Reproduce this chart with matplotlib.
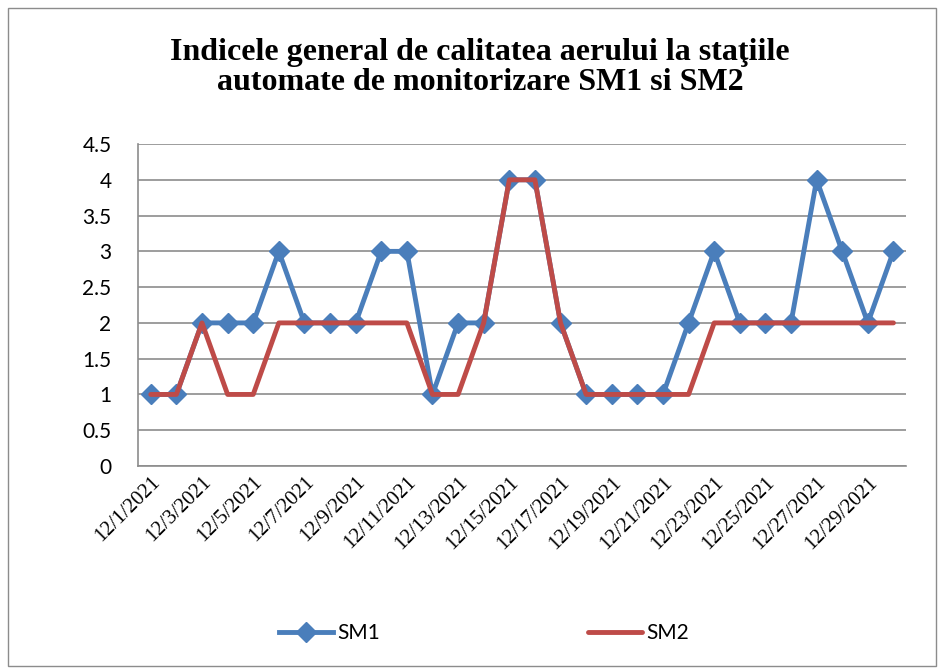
import matplotlib
matplotlib.use("Agg")
import matplotlib.pyplot as plt
from matplotlib.patches import Rectangle

# Data (December 2021, daily)
dates = ["12/%d/2021" % d for d in range(1, 31)]
sm1 = [1, 1, 2, 2, 2, 3, 2, 2, 2, 3, 3, 1, 2, 2, 4, 4, 2, 1, 1, 1,
       1, 2, 3, 2, 2, 2, 4, 3, 2, 3]
sm2 = [1, 1, 2, 1, 1, 2, 2, 2, 2, 2, 2, 1, 1, 2, 4, 4, 2, 1, 1, 1,
       1, 1, 2, 2, 2, 2, 2, 2, 2, 2]
yticks = [0, 0.5, 1, 1.5, 2, 2.5, 3, 3.5, 4, 4.5]
ytick_labels = ["0", "0.5", "1", "1.5", "2", "2.5", "3", "3.5", "4", "4.5"]

blue = "#4A7EBB"
red = "#BE4B48"
grid_col = "#8C8C8C"

fig = plt.figure(figsize=(9.45, 6.7), dpi=100)
ax = fig.add_axes([0.146, 0.3045, 0.813, 0.4805])

x = list(range(len(dates)))
ax.plot(x, sm1, color=blue, lw=3.5, marker="D", ms=10, label="SM1",
        solid_joinstyle="round", zorder=3)
ax.plot(x, sm2, color=red, lw=3.5, label="SM2",
        solid_joinstyle="round", solid_capstyle="round", zorder=4)

ax.set_xlim(-0.5, len(dates) - 0.5)
ax.set_ylim(0, 4.5)
ax.set_yticks(yticks)
ax.set_yticklabels(ytick_labels, fontfamily="Lato", fontsize=15)
ax.yaxis.grid(True, color=grid_col, lw=1.2)
ax.set_axisbelow(True)

ax.set_xticks(x[::2])
ax.set_xticklabels(dates[::2], rotation=45, ha="right", rotation_mode="anchor",
                   fontfamily="Liberation Serif", fontsize=15)
ax.tick_params(axis="x", length=0, pad=5)
ax.tick_params(axis="y", length=0, pad=19)

for side in ["top", "right"]:
    ax.spines[side].set_visible(False)
for side in ["left", "bottom"]:
    ax.spines[side].set_color(grid_col)
    ax.spines[side].set_linewidth(1.2)

fig.text(0.508, 0.944, "Indicele general de calitatea aerului la staţiile\n"
         "automate de monitorizare SM1 si SM2",
         ha="center", va="top", fontfamily="Liberation Serif",
         fontweight="bold", fontsize=23, linespacing=1.08)

leg = fig.legend(loc="center", bbox_to_anchor=(0.512, 0.055), ncol=2,
                 frameon=False, columnspacing=10.0, handlelength=2.6,
                 handletextpad=0.2, prop={"family": "Lato", "size": 15})

# outer chart border
fig.patches.append(Rectangle((0.008, 0.006), 0.982, 0.982, transform=fig.transFigure,
                             fill=False, edgecolor="#8C8C8C", lw=1.0))

fig.savefig("out.png", dpi=100)
